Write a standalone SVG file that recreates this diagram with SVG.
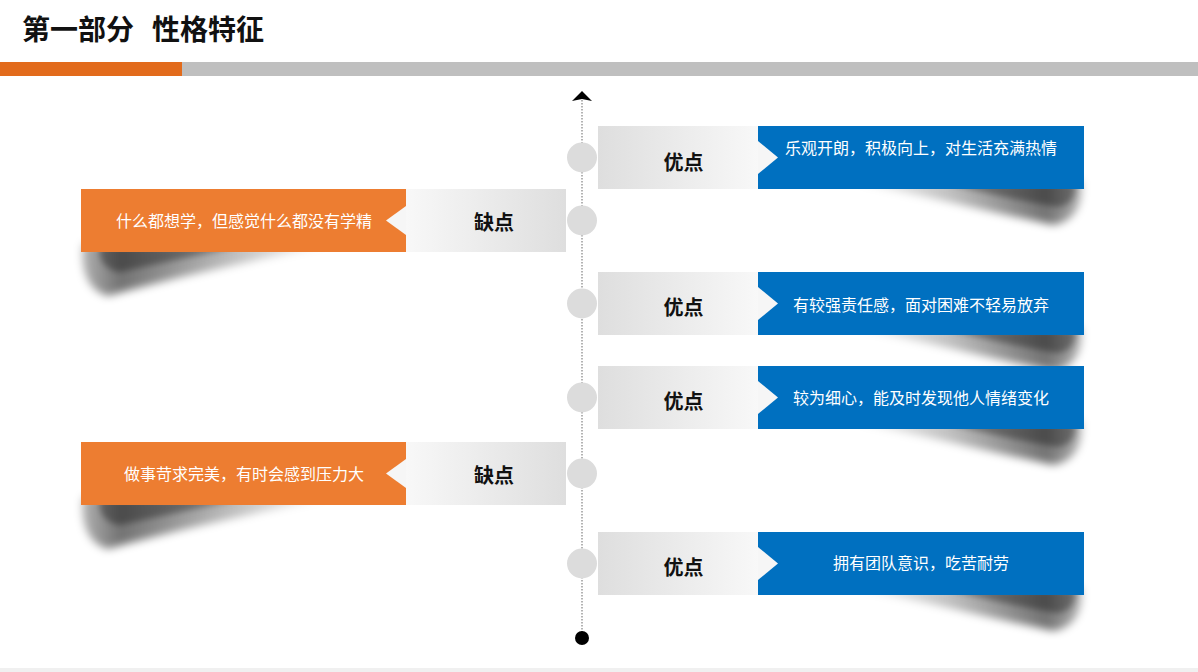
<svg xmlns="http://www.w3.org/2000/svg" xmlns:xlink="http://www.w3.org/1999/xlink" width="1198" height="672" viewBox="0 0 1198 672">
<style>
  text { font-family: 'Liberation Sans', 'Noto Sans CJK SC', sans-serif; }
  .title { font-size: 28px; font-weight: bold; fill: #111111; }
  .tag { font-size: 20px; font-weight: bold; fill: #111111; text-anchor: middle; }
  .desc { font-size: 16px; fill: #ffffff; text-anchor: middle; }
  .blue { fill: #0070C0; }
  .orange { fill: #ED7D31; }
  .dot { fill: #DCDCDC; }
  .notch { fill: #F6F6F6; }
  .axis { stroke: #9a9a9a; stroke-width: 1.5; stroke-dasharray: 1.5 1.5; fill: none; }
</style>
<defs>
  <linearGradient id="gR" x1="0" y1="0" x2="1" y2="0">
    <stop offset="0" stop-color="#DEDEDE"/>
    <stop offset="1" stop-color="#F8F8F8"/>
  </linearGradient>
  <linearGradient id="gL" x1="0" y1="0" x2="1" y2="0">
    <stop offset="0" stop-color="#F8F8F8"/>
    <stop offset="1" stop-color="#DEDEDE"/>
  </linearGradient>
  <linearGradient id="shR" x1="0" y1="0" x2="1" y2="0">
    <stop offset="0" stop-color="#000" stop-opacity="0"/>
    <stop offset="0.45" stop-color="#000" stop-opacity="0.25"/>
    <stop offset="0.85" stop-color="#000" stop-opacity="0.55"/>
    <stop offset="1" stop-color="#000" stop-opacity="0.3"/>
  </linearGradient>
  <linearGradient id="shL" x1="1" y1="0" x2="0" y2="0">
    <stop offset="0" stop-color="#000" stop-opacity="0"/>
    <stop offset="0.45" stop-color="#000" stop-opacity="0.28"/>
    <stop offset="0.85" stop-color="#000" stop-opacity="0.55"/>
    <stop offset="1" stop-color="#000" stop-opacity="0.3"/>
  </linearGradient>
  <filter id="blur" x="-30%" y="-80%" width="160%" height="260%">
    <feGaussianBlur stdDeviation="4.5"/>
  </filter>
  <filter id="blur2" x="-30%" y="-100%" width="160%" height="300%">
    <feGaussianBlur stdDeviation="3"/>
  </filter>
  <g id="shadowR">
    <path d="M 0,-8 L 236,-8 C 239,14 230,33 208,36 C 150,24 80,6 0,-8 Z" fill="url(#shR)" filter="url(#blur)"/>
    <path d="M 100,-6 L 230,-6 C 232,8 224,17 212,18 C 175,12 140,4 100,-6 Z" fill="#000" fill-opacity="0.35" filter="url(#blur2)"/>
  </g>
  <g id="shadowL">
    <path d="M 255,-8 L 1,-8 C -2,18 6,39 26,44 C 90,26 170,8 255,-8 Z" fill="url(#shL)" filter="url(#blur)"/>
    <path d="M 160,-6 L 18,-6 C 16,9 24,18 38,20 C 75,12 112,4 160,-6 Z" fill="#000" fill-opacity="0.35" filter="url(#blur2)"/>
  </g>
</defs>

<rect x="0" y="0" width="1198" height="672" fill="#ffffff"/>
<rect x="0" y="668" width="1198" height="4" fill="#F0F0F0"/>

<g id="header">
  <text class="title" x="22" y="40">第一部分<tspan x="152">性格特征</tspan></text>
  <rect x="0" y="62" width="182" height="14" fill="#E26B1C"/>
  <rect x="182" y="62" width="1016" height="14" fill="#BFBFBF"/>
</g>

<g id="connectors">
  <line class="axis" x1="582" y1="100" x2="582" y2="636"/>
  <polygon points="572,101 582,91 592,101 582,99" fill="#000"/>
  <circle cx="582" cy="638" r="7" fill="#000"/>
</g>

<g id="node-r1">
  <use xlink:href="#shadowR" x="845" y="189"/>
  <rect x="598" y="126" width="160" height="63" fill="url(#gR)"/>
  <rect class="blue" x="758" y="126" width="326" height="63"/>
  <polygon class="notch" points="758,141 778,157.5 758,174"/>
  <circle class="dot" cx="582" cy="157.5" r="15"/>
  <text class="tag" x="683.5" y="169.5">优点</text>
  <text class="desc" x="921" y="154">乐观开朗，积极向上，对生活充满热情</text>
</g>

<g id="node-l1">
  <use xlink:href="#shadowL" x="82" y="252"/>
  <rect class="orange" x="81" y="189" width="325" height="63"/>
  <rect x="406" y="189" width="160" height="63" fill="url(#gL)"/>
  <polygon class="notch" points="406,206 386,220.5 406,235"/>
  <circle class="dot" cx="582" cy="220.5" r="15"/>
  <text class="tag" x="494" y="229.5">缺点</text>
  <text class="desc" x="244" y="227">什么都想学，但感觉什么都没有学精</text>
</g>

<g id="node-r2">
  <use xlink:href="#shadowR" x="845" y="335"/>
  <rect x="598" y="272" width="160" height="63" fill="url(#gR)"/>
  <rect class="blue" x="758" y="272" width="326" height="63"/>
  <polygon class="notch" points="758,287 778,303.5 758,320"/>
  <circle class="dot" cx="582" cy="303.5" r="15"/>
  <text class="tag" x="683.5" y="314.5">优点</text>
  <text class="desc" x="921" y="311">有较强责任感，面对困难不轻易放弃</text>
</g>

<g id="node-r3">
  <use xlink:href="#shadowR" x="845" y="429"/>
  <rect x="598" y="366" width="160" height="63" fill="url(#gR)"/>
  <rect class="blue" x="758" y="366" width="326" height="63"/>
  <polygon class="notch" points="758,381 778,397.5 758,414"/>
  <circle class="dot" cx="582" cy="397.5" r="15"/>
  <text class="tag" x="683.5" y="408.5">优点</text>
  <text class="desc" x="921" y="404">较为细心，能及时发现他人情绪变化</text>
</g>

<g id="node-l2">
  <use xlink:href="#shadowL" x="82" y="505"/>
  <rect class="orange" x="81" y="442" width="325" height="63"/>
  <rect x="406" y="442" width="160" height="63" fill="url(#gL)"/>
  <polygon class="notch" points="406,459 386,473.5 406,488"/>
  <circle class="dot" cx="582" cy="473.5" r="15"/>
  <text class="tag" x="494" y="482.5">缺点</text>
  <text class="desc" x="244" y="480">做事苛求完美，有时会感到压力大</text>
</g>

<g id="node-r4">
  <use xlink:href="#shadowR" x="845" y="595"/>
  <rect x="598" y="532" width="160" height="63" fill="url(#gR)"/>
  <rect class="blue" x="758" y="532" width="326" height="63"/>
  <polygon class="notch" points="758,547 778,563.5 758,580"/>
  <circle class="dot" cx="582" cy="563.5" r="15"/>
  <text class="tag" x="683.5" y="574.5">优点</text>
  <text class="desc" x="921" y="569">拥有团队意识，吃苦耐劳</text>
</g>
</svg>
